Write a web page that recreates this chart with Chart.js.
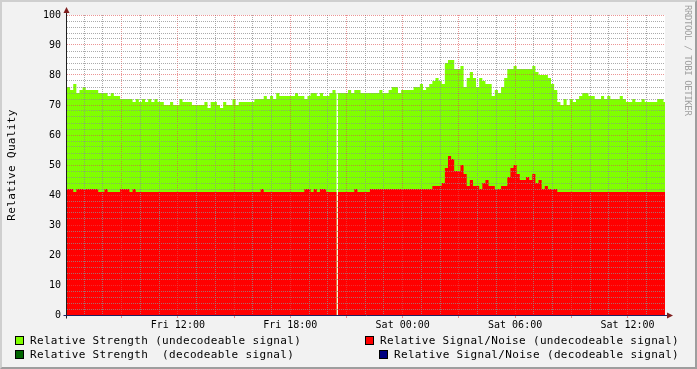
<!DOCTYPE html>
<html><head><meta charset="utf-8">
<script src="https://cdn.jsdelivr.net/npm/chart.js@4/dist/chart.umd.min.js"></script>
<style>
html,body{margin:0;padding:0;background:#F2F2F2;}
#wrap{position:relative;width:697px;height:369px;overflow:hidden;background:#F2F2F2;font-family:"DejaVu Sans Mono",monospace;}
#c{position:absolute;left:0;top:0;}
.t{position:absolute;white-space:pre;font-size:11px;line-height:14px;height:14px;letter-spacing:0.33px;color:#000;}
.b{position:absolute;width:9px;height:9px;box-sizing:border-box;border:1px solid #000;}
#ytitle{position:absolute;left:-44.3px;top:158px;width:112px;text-align:center;transform:rotate(-90deg);transform-origin:50% 50%;}
#wm{position:absolute;left:683px;top:5px;writing-mode:vertical-rl;font-size:9px;line-height:9px;width:9px;letter-spacing:-0.4px;color:#A0A0A0;white-space:pre;}
#frame{position:absolute;left:0;top:0;width:697px;height:369px;box-sizing:border-box;border:2px solid;border-color:#CFCFCF #9E9E9E #9E9E9E #CFCFCF;pointer-events:none;}
</style></head>
<body>
<div id="wrap">
<canvas id="c" width="697" height="369"></canvas>
<div class="t" id="ytitle">Relative Quality</div>
<div id="wm">RRDTOOL / TOBI OETIKER</div>
<div class="b" style="left:15px;top:336px;background:#80FF00"></div>
<div class="t" style="left:30px;top:333.5px">Relative Strength (undecodeable signal)</div>
<div class="b" style="left:15px;top:350px;background:#006400"></div>
<div class="t" style="left:30px;top:347.5px">Relative Strength  (decodeable signal)</div>
<div class="b" style="left:365px;top:336px;background:#FF0000"></div>
<div class="t" style="left:380px;top:333.5px">Relative Signal/Noise (undecodeable signal)</div>
<div class="b" style="left:379px;top:350px;background:#000080"></div>
<div class="t" style="left:394px;top:347.5px">Relative Signal/Noise (decodeable signal)</div>
<div id="frame"></div>
</div>
<script>
// Time axis in hours since Fri 00:00; samples every 10 minutes from Fri 06:05
const startHour = 6 + 5/60;
const endHour = 38;
const stepHours = 10/60;
const gapFrom = 20.48, gapTo = 20.535;   // missing data (white line)

const tickHours = [12, 18, 24, 30, 36];
const tickLabels = ['Fri 12:00', 'Fri 18:00', 'Sat 00:00', 'Sat 06:00', 'Sat 12:00'];
const yLabels = [0, 10, 20, 30, 40, 50, 60, 70, 80, 90, 100];

const strengthUndecodeable = [
  76,75,77,74,75,76,75,75,75,75, 74,74,74,73,74,73,73,72,72,72,
  72,71,72,71,72,71,72,71,72,71, 71,70,70,71,70,70,72,71,71,71,
  70,70,70,70,71,69,71,71,
  70,69,71,70,70,72,70,71,71,71, 71,71,72,72,72,73,72,73,72,74,
  73,73,73,73,73,74,73,73,72,73, 74,74,73,74,73,73,74,75,74,74,
  74,74,75,74,75,75,74,74,
  74,74,74,74,75,74,74,75,76,76, 74,75,75,75,75,76,76,77,75,76,
  77,78,79,78,77,84,85,85,82,82, 83,76,79,81,79,76,79,78,77,77,
  73,75,74,76,79,82,82,83,
  82,82,82,82,82,83,81,80,80,80, 79,77,75,71,70,72,70,72,71,72,
  73,74,74,73,73,72,72,73,72,73, 72,72,72,73,72,71,71,72,71,71,
  72,71,71,71,71,72,72,71
];
const snUndecodeable = [
  42,42,41,42,42,42,42,42,42,42, 41,41,42,41,41,41,41,42,42,42,
  41,42,41,41,41,41,41,41,41,41, 41,41,41,41,41,41,41,41,41,41,
  41,41,41,41,41,41,41,41,
  41,41,41,41,41,41,41,41,41,41, 41,41,41,41,42,41,41,41,41,41,
  41,41,41,41,41,41,41,41,42,42, 41,42,41,42,42,41,41,41,41,41,
  41,41,41,41,42,41,41,41,
  41,42,42,42,42,42,42,42,42,42, 42,42,42,42,42,42,42,42,42,42,
  42,43,43,43,44,49,53,52,48,48, 50,47,43,45,43,43,42,44,45,43,
  43,42,42,43,43,46,49,50,
  47,45,45,46,45,47,44,45,42,43, 42,42,42,41,41,41,41,41,41,41,
  41,41,41,41,41,41,41,41,41,41, 41,41,41,41,41,41,41,41,41,41,
  41,41,41,41,41,41,41,41
];

function buildSeries(values){
  const pts = [];
  values.forEach((v, i) => {
    const t0 = startHour + i*stepHours, t1 = t0 + stepHours;
    pts.push({x: t0, y: v});
    if (gapFrom >= t0 && gapFrom < t1) {
      pts.push({x: gapFrom, y: v});
      pts.push({x: (gapFrom+gapTo)/2, y: null});
      pts.push({x: gapTo, y: v});
    }
  });
  pts.push({x: endHour, y: values[values.length-1]});
  return pts;
}

const GRID = 'rgba(143,143,143,0.75)';
const MGRID = 'rgba(222,79,79,0.6)';
const FONT = {family: 'DejaVu Sans Mono', size: 10};

const rrdFrame = {
  id: 'rrdFrame',
  beforeDraw(chart){
    const {ctx, chartArea: a} = chart;
    ctx.save();
    ctx.fillStyle = '#FFFFFF';
    ctx.fillRect(a.left, a.top, a.right - a.left, a.bottom - a.top);
    ctx.restore();
  },
  afterDraw(chart){
    const {ctx, chartArea: a} = chart;
    const L = a.left - 0.5, B = a.bottom + 0.5;
    ctx.save();
    ctx.lineWidth = 1;
    ctx.strokeStyle = '#1F1F1F';
    ctx.beginPath(); ctx.moveTo(L, B + 3); ctx.lineTo(L, a.top - 4); ctx.stroke();
    ctx.strokeStyle = '#1F1F5F';
    ctx.beginPath(); ctx.moveTo(L - 3, B); ctx.lineTo(a.right + 4, B); ctx.stroke();
    ctx.fillStyle = '#801F1F';
    ctx.beginPath(); ctx.moveTo(L - 3, a.top - 2); ctx.lineTo(L, a.top - 8); ctx.lineTo(L + 3, a.top - 2); ctx.closePath(); ctx.fill();
    ctx.beginPath(); ctx.moveTo(a.right + 2, B - 3); ctx.lineTo(a.right + 8, B); ctx.lineTo(a.right + 2, B + 3); ctx.closePath(); ctx.fill();
    ctx.restore();
  }
};

new Chart(document.getElementById('c'), {
  type: 'line',
  data: {
    datasets: [
      {label: 'Relative Signal/Noise (undecodeable signal)', data: buildSeries(snUndecodeable),
       backgroundColor: '#FF0000', borderColor: 'rgba(0,0,0,0)', borderWidth: 0, fill: 'origin', stepped: true, pointRadius: 0},
      {label: 'Relative Strength (undecodeable signal)', data: buildSeries(strengthUndecodeable),
       backgroundColor: '#80FF00', borderColor: 'rgba(0,0,0,0)', borderWidth: 0, fill: 'origin', stepped: true, pointRadius: 0}
    ]
  },
  options: {
    responsive: false, animation: false, devicePixelRatio: 1,
    spanGaps: false,
    layout: {padding: {left: 0, right: 32, top: 15, bottom: 34}},
    plugins: {legend: {display: false}, tooltip: {enabled: false}},
    scales: {
      x: {
        type: 'linear', min: startHour, max: endHour, z: 1,
        afterBuildTicks(s){ const t = []; for (let h = 7; h <= 37; h++) t.push({value: h}); s.ticks = t; },
        afterFit(s){ s.height = 20; },
        ticks: {autoSkip: false, maxRotation: 0, padding: 1, font: FONT, color: '#000',
          callback(v){ const i = tickHours.indexOf(v); return i >= 0 ? tickLabels[i] : ''; }},
        grid: {z: 1, color: c => (c.tick && c.tick.value % 3 === 0) ? MGRID : GRID, lineWidth: 1, tickLength: 3,
          tickColor: c => (c.tick && c.tick.value % 3 === 0) ? MGRID : 'rgba(0,0,0,0)'},
        border: {display: false, dash: [1, 1]}
      },
      y: {
        min: 0, max: 100, z: 1,
        afterBuildTicks(s){ const t = []; for (let v = 0; v <= 100; v += 2) t.push({value: v}); s.ticks = t; },
        afterFit(s){ s.width = 67; },
        ticks: {autoSkip: false, padding: 3, font: FONT, color: '#000',
          callback(v){ return yLabels.includes(v) ? String(v) : ''; }},
        grid: {z: 1, color: c => (c.tick && c.tick.value % 10 === 0) ? MGRID : GRID, lineWidth: 1, tickLength: 3,
          tickColor: 'rgba(0,0,0,0)'},
        border: {display: false, dash: [1, 1]}
      }
    }
  },
  plugins: [rrdFrame]
});
</script>
</body></html>
